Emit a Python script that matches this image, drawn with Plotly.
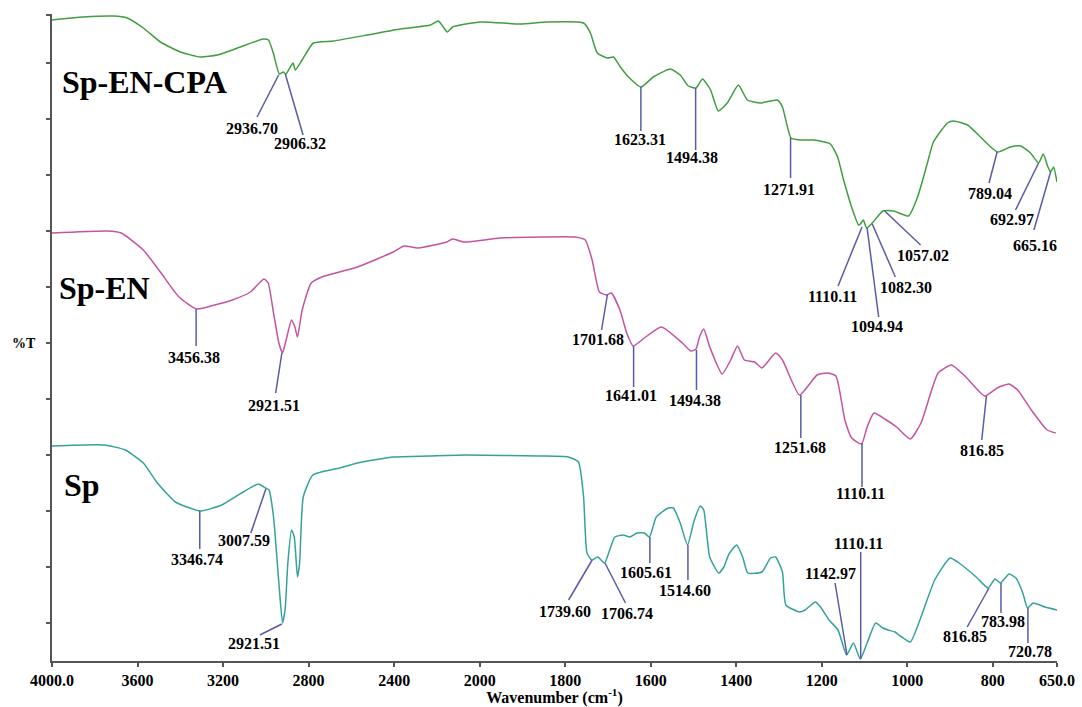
import plotly.graph_objects as go

# ---------------- data (wavenumber in cm-1, relative %T height) ----------------
cpa_wn = [4000,3854,3713,3648,3573,3493,3400,3306,3227,3119,3012,2988,2965,2937,2918,2906,2873,2862,2830,2778,
          2684,2525,2371,2230,2193,2151,2127,1998,1905,1842,1757,1741,1725,1701,1687,1671,1652,1623,1594,1554,
          1531,1512,1494,1479,1460,1442,1421,1395,1374,1343,1304,1292,1272,1250,1219,1180,1163,1149,1128,1114,
          1110,1103,1095,1082,1057,1032,997,976,953,939,906,892,859,829,789,759,735,712,693,682,
          672,665,658,650]
cpa_t = [641,644,645,643,633,619,609,604,606,614,622,621,608,587,589,587,598,591,601,618,
         620,626,632,636,640,629,634,639,637,639,638,628,608,603,604,594,584,574,584,592,
         586,575,573,582,571,550,558,576,561,558,561,554,523,521,521,517,504,481,451,436,
         437,441,433,438,450,450,445,464,498,519,538,540,536,524,509,514,515,508,498,507,
         495,489,494,479]

en_wn = [4000,3741,3676,3573,3490,3406,3323,3239,3157,3072,3009,2989,2964,2939,2922,2905,2880,2864,2852,2830,
         2788,2738,2572,2404,2354,2287,2154,2128,2070,1952,1858,1777,1753,1737,1720,1704,1692,1672,1656,1641,
         1615,1575,1526,1506,1494,1486,1476,1462,1433,1413,1397,1381,1357,1340,1308,1292,1252,1211,1187,1167,
         1146,1130,1107,1094,1078,1049,1025,993,968,928,897,863,819,790,762,742,710,673,653]
en_t = [428,430,428,411,388,364,352,356,361,369,382,378,348,318,308,321,341,334,324,351,
        378,384,394,409,415,413,419,422,419,423,424,424,421,401,369,366,368,351,328,315,
        323,334,318,310,312,324,332,314,287,301,315,301,299,293,308,301,266,286,288,285,
        241,223,217,234,248,241,234,222,238,288,296,284,265,273,277,271,251,231,228]

sp_wn = [4000,3757,3657,3573,3507,3423,3306,3206,3106,3035,3002,2985,2964,2939,2922,2910,2897,2880,2867,2852,
         2842,2825,2780,2655,2572,2404,2237,2070,1858,1793,1769,1757,1749,1738,1724,1708,1696,1684,1664,1649,
         1632,1615,1603,1587,1559,1547,1531,1514,1498,1484,1476,1462,1441,1429,1417,1399,1385,1373,1340,1320,
         1308,1292,1284,1252,1239,1215,1203,1183,1162,1142,1126,1110,1094,1074,1057,1045,1029,1013,993,968,
         936,900,879,839,811,795,782,762,746,730,719,706,678,650]
sp_t = [215,216,211,198,178,159,150,156,169,177,173,171,144,78,38,51,98,131,124,84,
        98,164,186,193,198,204,205,206,205,204,199,164,108,101,104,98,111,124,126,124,
        128,128,124,144,153,153,138,116,141,155,151,104,88,94,107,116,104,88,89,103,
        104,89,56,49,51,59,54,41,31,6,18,2,18,38,33,31,29,24,19,44,
        81,103,98,84,73,82,78,87,83,68,53,58,54,51]

x_tick_values = [4000, 3600, 3200, 2800, 2400, 2000, 1800, 1600, 1400, 1200, 1000, 800, 650]
x_tick_labels = ["4000.0", "3600", "3200", "2800", "2400", "2000", "1800", "1600", "1400", "1200", "1000", "800", "650.0"]

series_names = ["Sp-EN-CPA", "Sp-EN", "Sp"]
series_colors = ["#3f9e3f", "#c4549f", "#35a29a"]

# peak labels: text, (curve point wn, t), (leader end wn, t), (text centre wn, t)
peak_labels = [
    ("2936.70", 2940, 586, 3041, 544, 3064, 533),
    ("2906.32", 2909, 587, 2826, 526, 2842, 518),
    ("1623.31", 1623, 574, 1623, 530, 1626, 522),
    ("1494.38", 1495, 573, 1495, 511, 1503, 504),
    ("1271.91", 1273, 523, 1273, 483, 1277, 472),
    ("1110.11", 1106, 434, 1162, 375, 1176, 365),
    ("1094.94", 1094, 433, 1067, 344, 1071, 335),
    ("1082.30", 1082, 437, 1028, 384, 1003, 374),
    ("1057.02", 1053, 450, 969, 416, 963, 406),
    ("789.04", 790, 509, 809, 478, 807, 468),
    ("692.97", 693, 498, 747, 451, 755, 442),
    ("665.16", 665, 489, 704, 431, 702, 416),
    ("3456.38", 3326, 352, 3326, 315, 3334, 304),
    ("2921.51", 2925, 308, 2954, 268, 2961, 256),
    ("1701.68", 1701, 367, 1715, 331, 1724, 322),
    ("1641.01", 1640, 315, 1640, 274, 1645, 266),
    ("1494.38", 1493, 311, 1493, 271, 1497, 261),
    ("1251.68", 1249, 266, 1249, 223, 1250, 214),
    ("1110.11", 1106, 218, 1106, 174, 1109, 168),
    ("816.85", 815, 265, 826, 221, 826, 211),
    ("3346.74", 3309, 150, 3309, 112, 3323, 102),
    ("3007.59", 3000, 172, 3070, 128, 3100, 121),
    ("2921.51", 2925, 37, 3028, 26, 3055, 18),
    ("1739.60", 1737, 101, 1792, 61, 1800, 50),
    ("1706.74", 1707, 98, 1659, 58, 1655, 48),
    ("1605.61", 1602, 124, 1602, 98, 1610, 89),
    ("1514.60", 1513, 116, 1513, 81, 1521, 71),
    ("1142.97", 1141, 6, 1169, 78, 1179, 88),
    ("1110.11", 1109, 2, 1109, 109, 1114, 118),
    ("816.85", 809, 73, 860, 34, 864, 25),
    ("783.98", 781, 78, 781, 48, 777, 40),
    ("720.78", 718, 53, 718, 18, 712, 10),
]

# ---------------- axis scale (instrument plot: half scale above 2000 cm-1) ----------------
def xs(w):
    return w if w <= 2000 else 2000 + (w - 2000) / 2.0

FONT = "Liberation Serif, Times New Roman, serif"
LEADER = "#5a5aa8"

fig = go.Figure()
for name, wn, t, col in [(series_names[0], cpa_wn, cpa_t, series_colors[0]),
                         (series_names[1], en_wn, en_t, series_colors[1]),
                         (series_names[2], sp_wn, sp_t, series_colors[2])]:
    fig.add_trace(go.Scatter(x=[xs(w) for w in wn], y=t, mode="lines", name=name,
                             line=dict(color=col, width=1.5, shape="spline", smoothing=0.5),
                             showlegend=False, hoverinfo="skip"))

shapes = []
annotations = []
for txt, aw, at, ew, et, tw, tt in peak_labels:
    shapes.append(dict(type="line", xref="x", yref="y", x0=xs(aw), y0=at, x1=xs(ew), y1=et,
                       line=dict(color=LEADER, width=1.5)))
    annotations.append(dict(x=xs(tw), y=tt, xref="x", yref="y", text="<b>%s</b>" % txt,
                            showarrow=False, font=dict(family=FONT, size=16, color="black"),
                            xanchor="center", yanchor="middle"))

# series names
for txt, w, t in [(series_names[0], 3964, 579), (series_names[1], 3978, 373), (series_names[2], 3953, 176)]:
    annotations.append(dict(x=xs(w), y=t, xref="x", yref="y", text="<b>%s</b>" % txt,
                            showarrow=False, font=dict(family=FONT, size=32, color="black"),
                            xanchor="left", yanchor="middle"))

annotations.append(dict(x=-0.0276, y=317.7, xref="paper", yref="y", text="<b>%T</b>",
                        showarrow=False, font=dict(family=FONT, size=14, color="black"),
                        xanchor="center", yanchor="middle"))

y_ticks = [37.7 + 56 * k for k in range(11)] + [646.5]

fig.update_layout(
    width=1082, height=707,
    margin=dict(l=52, r=25, t=14, b=46),
    paper_bgcolor="white", plot_bgcolor="white",
    shapes=shapes, annotations=annotations,
    xaxis=dict(range=[3000, 650], tickvals=[xs(v) for v in x_tick_values],
               ticktext=["<b>%s</b>" % s for s in x_tick_labels],
               tickfont=dict(family=FONT, size=16, color="black"),
               showline=True, linecolor="#555555", linewidth=2, ticks="outside", ticklen=4,
               tickcolor="#555555", tickwidth=1.5, showgrid=False, zeroline=False,
               title=dict(text="<b>Wavenumber (cm<sup>-1</sup>)</b>", standoff=1,
                          font=dict(family=FONT, size=16, color="black")),
               automargin=False),
    yaxis=dict(range=[0, 647], tickvals=y_ticks, showticklabels=False,
               showline=True, linecolor="#555555", linewidth=2, ticks="outside", ticklen=4,
               tickcolor="#555555", tickwidth=1.5, showgrid=False, zeroline=False, automargin=False),
)

fig.write_html("out.html")
